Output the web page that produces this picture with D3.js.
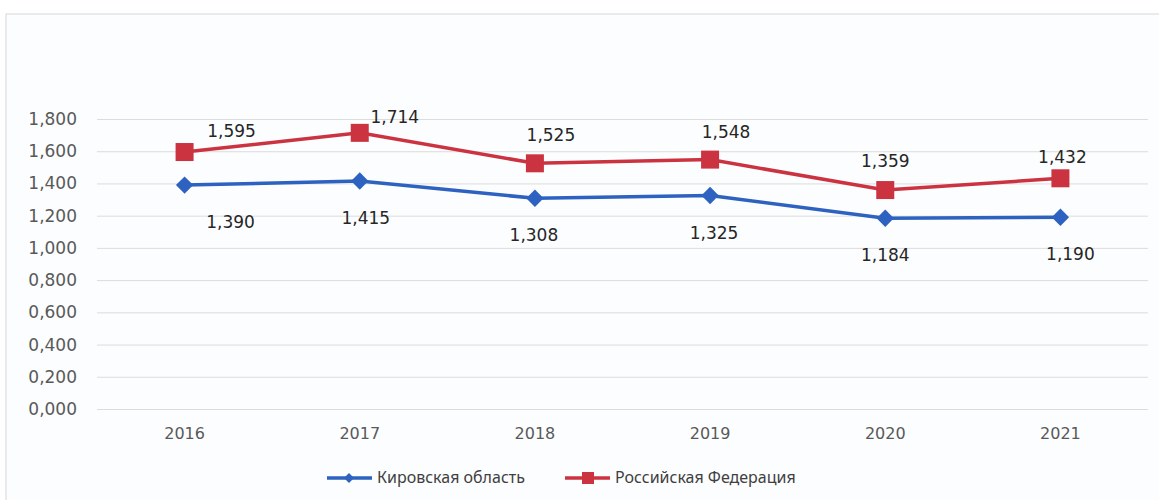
<!DOCTYPE html>
<html lang="ru">
<head>
    <meta charset="UTF-8">
    <title>Chart</title>
    <style>
        body { margin: 0; background: #ffffff; }
    </style>
</head>
<body>
<svg id="svgId"></svg>
<script src="https://cdnjs.cloudflare.com/ajax/libs/d3/7.8.5/d3.min.js"></script>
<script>

    // Data
    const years = ['2016', '2017', '2018', '2019', '2020', '2021']
    const kirov = [1.390, 1.415, 1.308, 1.325, 1.184, 1.190]
    const russia = [1.595, 1.714, 1.525, 1.548, 1.359, 1.432]
    const yTicks = [0, 0.2, 0.4, 0.6, 0.8, 1.0, 1.2, 1.4, 1.6, 1.8]
    const seriesNames = ['Кировская область', 'Российская Федерация']

    // layout: nudges of the data labels (as placed in the picture)
    const redShift = [47, 35, 16, 16, 0, 2]
    const redDy = [-15, -10, -22, -22, -23, -15]
    const blueShift = [46, 6, -1, 4, 0, 10]

    const svgWidth = 1159
    const svgHeight = 500
    const margin = {top: 119, right: 11, bottom: 91, left: 97}
    const width = svgWidth - margin.left - margin.right
    const height = svgHeight - margin.top - margin.bottom

    const root = d3.select('#svgId')
        .attr('width', svgWidth)
        .attr('height', svgHeight)

    // chart area background + frame
    root.append('rect')
        .attr('x', 6).attr('y', 14)
        .attr('width', svgWidth).attr('height', svgHeight)
        .attr('fill', '#fcfdfe')
        .attr('stroke', '#d6d8dc')
        .attr('stroke-width', 1)

    const svg = root.append('g')
        .attr('transform', `translate(${margin.left},${margin.top})`)

    const xScale = d3.scaleBand().domain(years).range([0, width])
    const yScale = d3.scaleLinear().domain([0, 1.8]).range([height, 0])
    const xc = d => xScale(d) + xScale.bandwidth() / 2

    const fmt = v => d3.format('.3f')(v).replace('.', ',')

    // gridlines + y axis labels
    const yAxis = svg.append('g')
        .call(d3.axisLeft(yScale).tickValues(yTicks).tickSize(-width).tickFormat(fmt).tickPadding(20))
    yAxis.select('.domain').remove()
    yAxis.selectAll('line').attr('stroke', '#dcdcdc').attr('stroke-width', 1)
    yAxis.selectAll('text')
        .attr('fill', '#595959')
        .style('font', '17px "DejaVu Sans"')

    // x axis labels
    const xAxis = svg.append('g')
        .attr('transform', `translate(0,${height})`)
        .call(d3.axisBottom(xScale).tickSize(0).tickPadding(19))
    xAxis.select('.domain').remove()
    xAxis.selectAll('text')
        .attr('fill', '#595959')
        .style('font', '16px "DejaVu Sans"')

    const blue = '#2d62c0'
    const red = '#cc3341'

    const line = d3.line().x((d, i) => xc(years[i])).y(d => yScale(d))

    // series lines
    svg.append('path').datum(kirov)
        .attr('fill', 'none').attr('stroke', blue).attr('stroke-width', 3.5)
        .attr('d', line)
    svg.append('path').datum(russia)
        .attr('fill', 'none').attr('stroke', red).attr('stroke-width', 3.5)
        .attr('d', line)

    // markers
    const diamond = d3.symbol().type(d3.symbolSquare).size(150)
    svg.selectAll('.kMark').data(kirov).enter()
        .append('path')
        .attr('class', 'kMark')
        .attr('d', diamond)
        .attr('transform', (d, i) => `translate(${xc(years[i])},${yScale(d)}) rotate(45)`)
        .attr('fill', blue)

    svg.selectAll('.rMark').data(russia).enter()
        .append('rect')
        .attr('class', 'rMark')
        .attr('x', (d, i) => xc(years[i]) - 9)
        .attr('y', d => yScale(d) - 9)
        .attr('width', 18).attr('height', 18)
        .attr('fill', red)

    // data labels
    svg.selectAll('.rLab').data(russia).enter()
        .append('text')
        .attr('x', (d, i) => xc(years[i]) + redShift[i])
        .attr('y', (d, i) => yScale(d) + redDy[i])
        .attr('text-anchor', 'middle')
        .attr('fill', '#262626')
        .style('font', '17px "DejaVu Sans"')
        .text(fmt)

    svg.selectAll('.kLab').data(kirov).enter()
        .append('text')
        .attr('x', (d, i) => xc(years[i]) + blueShift[i])
        .attr('y', d => yScale(d) + 43)
        .attr('text-anchor', 'middle')
        .attr('fill', '#262626')
        .style('font', '17px "DejaVu Sans"')
        .text(fmt)

    // legend
    const legend = root.append('g').attr('transform', 'translate(327,478)')
    const items = [
        {name: seriesNames[0], color: blue, x: 0},
        {name: seriesNames[1], color: red, x: 238}
    ]
    items.forEach(it => {
        const g = legend.append('g').attr('transform', `translate(${it.x},0)`)
        g.append('line').attr('x1', 0).attr('x2', 45).attr('y1', 0).attr('y2', 0)
            .attr('stroke', it.color).attr('stroke-width', 3.5)
        if (it.color === blue) {
            g.append('path').attr('d', d3.symbol().type(d3.symbolSquare).size(50))
                .attr('transform', 'translate(22,0) rotate(45)').attr('fill', blue)
        } else {
            g.append('rect').attr('x', 17).attr('y', -6).attr('width', 12).attr('height', 12).attr('fill', red)
        }
        g.append('text').attr('x', 50).attr('y', 5)
            .attr('fill', '#404040')
            .style('font', '16px "Noto Sans"')
            .text(it.name)
    })

</script>
</body>
</html>
